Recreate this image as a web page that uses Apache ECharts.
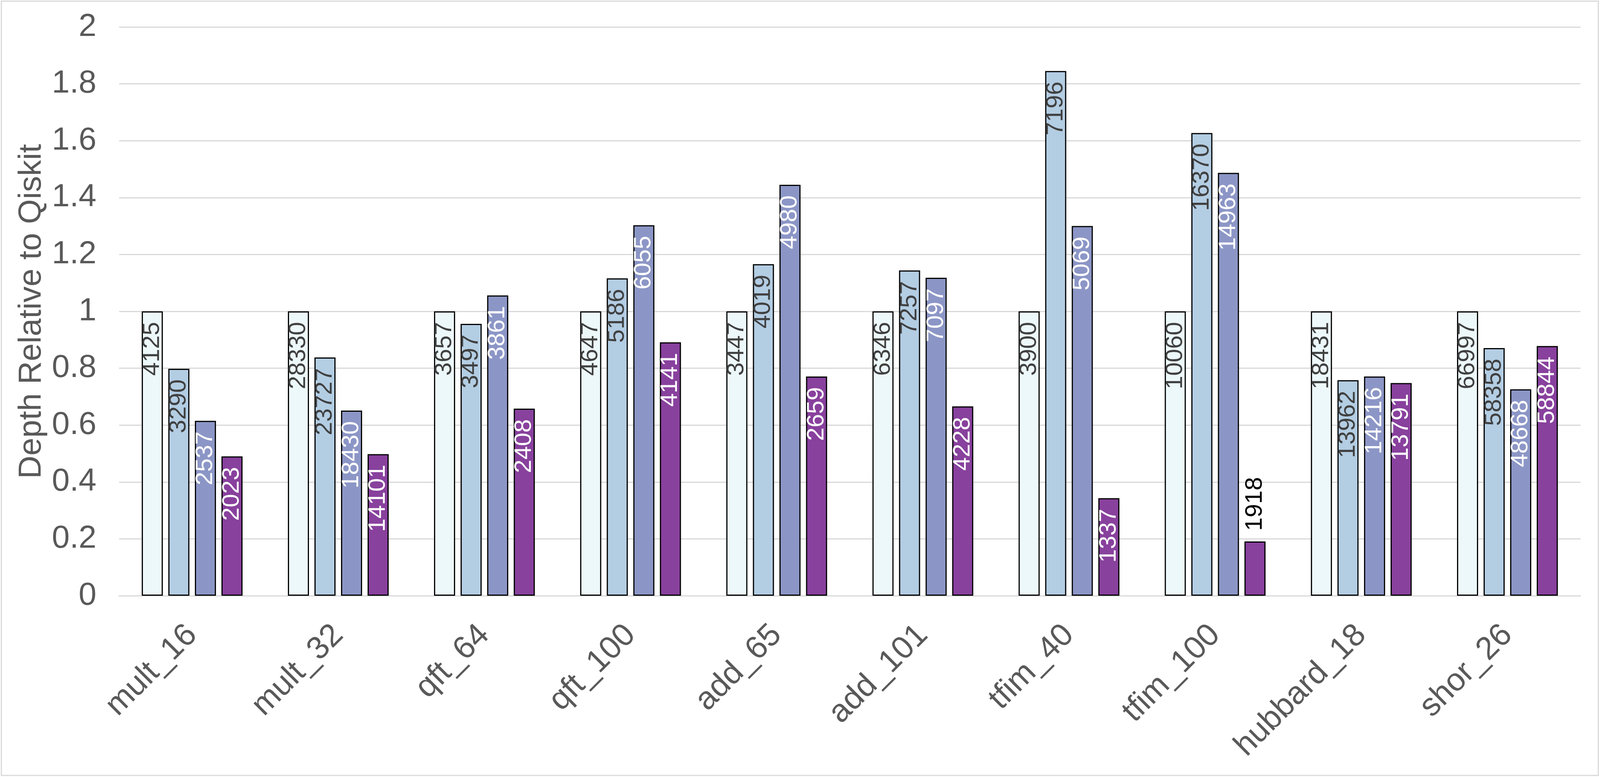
<!DOCTYPE html>
<html>
<head>
<meta charset="utf-8">
<script src="https://cdn.jsdelivr.net/npm/echarts@6/dist/echarts.min.js"></script>
<style>
html,body{margin:0;padding:0;background:#fff;overflow:hidden;}
#c{width:100vw;height:100vh;}
</style>
</head>
<body>
<div id="c"></div>
<script>
// ---- data ----
const categories = ['mult_16','mult_32','qft_64','qft_100','add_65','add_101','tfim_40','tfim_100','hubbard_18','shor_26'];
const seriesNames = ['Qiskit','Compiler B','Compiler C','Compiler D'];
// depth relative to Qiskit (bar heights)
const ratioA = [1, 1, 1, 1, 1, 1, 1, 1, 1, 1];
const ratioB = [0.798, 0.838, 0.956, 1.116, 1.166, 1.144, 1.845, 1.627, 0.758, 0.871];
const ratioC = [0.615, 0.651, 1.056, 1.303, 1.445, 1.118, 1.300, 1.487, 0.771, 0.726];
const ratioD = [0.490, 0.498, 0.658, 0.891, 0.771, 0.666, 0.343, 0.191, 0.748, 0.878];
// absolute depths (bar labels)
const depthA = [4125, 28330, 3657, 4647, 3447, 6346, 3900, 10060, 18431, 66997];
const depthB = [3290, 23727, 3497, 5186, 4019, 7257, 7196, 16370, 13962, 58358];
const depthC = [2537, 18430, 3861, 6055, 4980, 7097, 5069, 14963, 14216, 48668];
const depthD = [2023, 14101, 2408, 4141, 2659, 4228, 1337, 1918, 13791, 58844];
const yTicks = {min: 0, max: 2, interval: 0.2};

const ratios = [ratioA, ratioB, ratioC, ratioD];
const depths = [depthA, depthB, depthC, depthD];
const colors = ['#EDF8FB', '#B3CDE3', '#8C96C6', '#88419D'];
const labelColors = ['#404040', '#404040', '#FFFFFF', '#FFFFFF'];
const FONT = '"Liberation Sans", Arial, sans-serif';

const el = document.getElementById('c');
const chart = echarts.init(el, null, {renderer: 'canvas'});
const W = el.clientWidth, H = el.clientHeight;
const sx = W / 4757;          // horizontal layout scale (reference is 4757 wide)
const gridLeft = 354 * sx;
const barW = Math.round(63 * sx);

const series = ratios.map((arr, si) => ({
  name: seriesNames[si],
  type: 'bar',
  barWidth: barW,
  barGap: ((79 * sx) / barW - 1) * 100 + '%',
  itemStyle: {color: colors[si], borderColor: '#000', borderWidth: 3},
  label: {
    show: true,
    position: ['50%', 27],
    rotate: 90,
    align: 'right',
    verticalAlign: 'middle',
    fontFamily: FONT,
    fontSize: 62,
    color: labelColors[si],
    formatter: p => String(depths[si][p.dataIndex])
  },
  data: arr.map((v) => {
    // bars too short for an inside label carry it above the bar
    if (v < 0.3) {
      return {value: v, label: {position: ['50%', -27], align: 'left', verticalAlign: 'middle', color: '#000000'}};
    }
    return v;
  })
}));

chart.setOption({
  animation: false,
  backgroundColor: '#fff',
  grid: {left: gridLeft, right: 58 * sx, top: 69, bottom: H - 1525, containLabel: false, outerBoundsMode: 'none'},
  xAxis: {
    type: 'category',
    data: categories,
    axisLine: {show: true, lineStyle: {color: '#D9D9D9', width: 3}},
    axisTick: {show: false},
    axisLabel: {rotate: 45, margin: 88, fontFamily: FONT, fontSize: 82, color: '#595959', interval: 0}
  },
  yAxis: {
    type: 'value',
    min: yTicks.min, max: yTicks.max, interval: yTicks.interval,
    name: 'Depth Relative to Qiskit',
    nameLocation: 'middle',
    nameGap: gridLeft - 104 * sx - 34,
    nameTextStyle: {fontFamily: FONT, fontSize: 82, color: '#595959'},
    axisLine: {show: false},
    axisTick: {show: false},
    splitLine: {show: true, lineStyle: {color: '#D9D9D9', width: 3}},
    axisLabel: {margin: Math.round(74 * sx) - 6, fontFamily: FONT, fontSize: 82, color: '#595959'}
  },
  graphic: [{
    type: 'rect',
    shape: {x: 4 * sx, y: 3, width: W - 9 * sx, height: H - 7},
    style: {fill: 'none', stroke: '#D9D9D9', lineWidth: 3},
    silent: true
  }],
  series: series
});
</script>
</body>
</html>
